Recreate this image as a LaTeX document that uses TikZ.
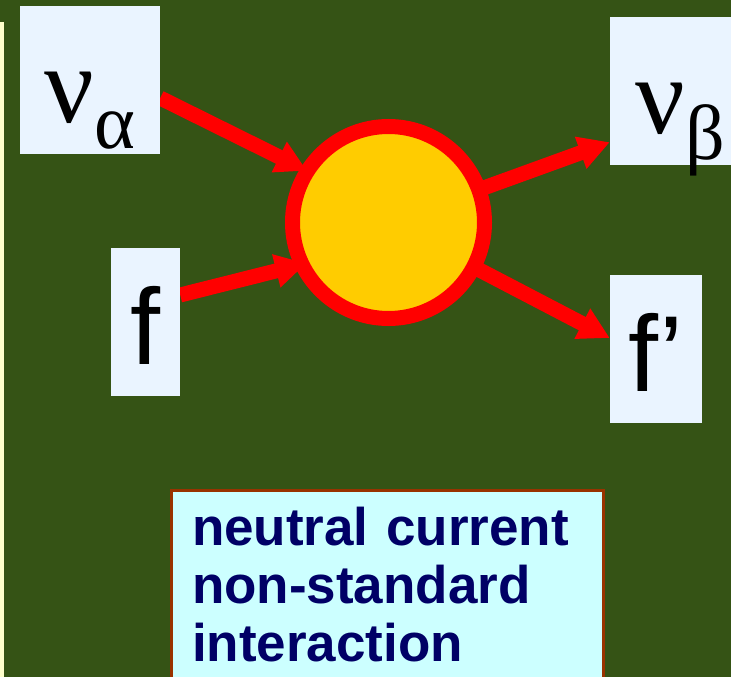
\documentclass[tikz,border=0pt]{standalone}
\usepackage{fontspec}
\setmainfont{Liberation Sans}
\newfontfamily\grkfont{Liberation Serif}
\usetikzlibrary{arrows.meta, positioning}

\definecolor{slidegreen}{RGB}{53,83,21}
\definecolor{stripe}{RGB}{255,255,204}
\definecolor{labelfill}{RGB}{234,244,255}
\definecolor{notefill}{RGB}{204,255,255}
\definecolor{notedraw}{RGB}{153,51,0}
\definecolor{notetext}{RGB}{0,0,102}
\definecolor{blobfill}{RGB}{255,204,0}

\pgfdeclarelayer{bg}
\pgfdeclarelayer{wires}
\pgfsetlayers{bg,wires,main}

\begin{document}
\begin{tikzpicture}[
    x=1pt, y=-1pt,
    lbox/.style={rectangle, fill=labelfill, inner sep=0pt,
                 minimum height=148pt, text height=84pt, text depth=0pt},
    grk/.style={font=\grkfont\fontsize{110}{110}\selectfont},
    ferm/.style={font=\fontsize{108}{108}\selectfont},
    blob/.style={circle, draw=red, fill=blobfill, line width=15pt,
                 minimum size=192pt, inner sep=0pt},
    line/.style={draw=red, line width=15pt,
                 -{Triangle[length=31pt, width=32pt]}},
    note/.style={rectangle, draw=notedraw, fill=notefill, line width=3pt,
                 anchor=north west, align=left, text width=390pt,
                 inner xsep=21pt, inner ysep=17pt, text=notetext,
                 font=\bfseries\fontsize{53}{58}\selectfont},
]
    \useasboundingbox (0,0) rectangle (731,677);
    \clip (0,0) rectangle (731,677);

    % slide background
    \begin{pgfonlayer}{bg}
        \fill[slidegreen] (0,0) rectangle (731,677);
        \fill[stripe] (0,22) rectangle (4,677);
    \end{pgfonlayer}

    % particles in
    \node[lbox, grk, minimum width=140pt] (nua) at (90,80)
        {ν\raisebox{-26pt}{\fontsize{78}{78}\selectfont α}};
    \node[lbox, ferm, minimum width=69pt] (fq) at (145.5,322) {f};

    % vertex
    \node[blob] (vtx) at (388.5,222.5) {};

    % particles out
    \node[lbox, grk, minimum width=140pt] (nub) at (680,91)
        {ν\raisebox{-26pt}{\fontsize{78}{78}\selectfont β}};
    \node[lbox, ferm, minimum width=92pt] (fp) at (656,349) {f’};

    % caption
    \node[note, minimum width=432pt] (nsi) at (169.5,488.5)
        {\hyphenpenalty=10000\relax
         neutral current\\non-standard\\interaction};

    % lines (tips of the incoming ones run under the ring)
    \begin{pgfonlayer}{wires}
        \draw[line, shorten >=-7pt] ([yshift=-18pt]nua.east) -- (vtx.148);
        \draw[line, shorten >=-12pt] ([yshift=27pt]fq.east) -- (vtx.205);
        \draw[line] (vtx.center) -- ([yshift=23pt]nub.south west);
        \draw[line] (vtx.center) -- ([yshift=11pt]fp.west);
    \end{pgfonlayer}
\end{tikzpicture}
\end{document}
